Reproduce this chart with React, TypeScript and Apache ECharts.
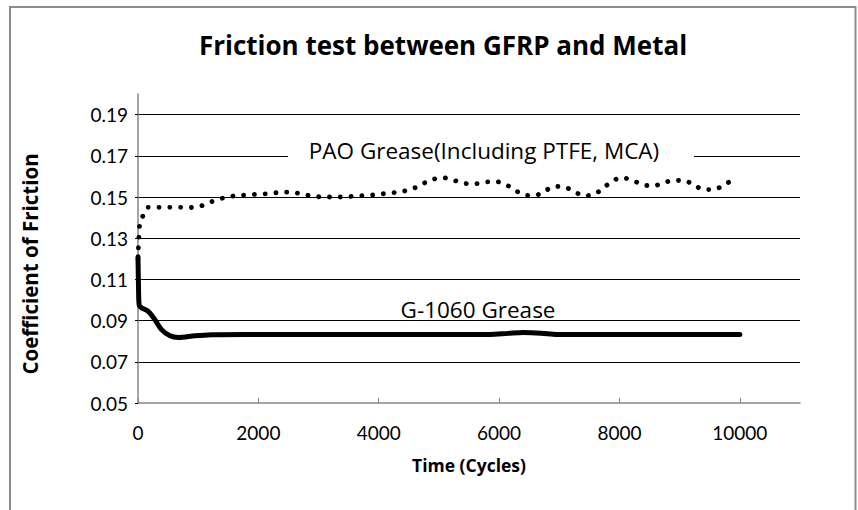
import React, { useEffect, useRef } from "react";
import * as echarts from "echarts";

const titleText = "Friction test between GFRP and Metal";
const xAxisName = "Time (Cycles)";
const yAxisName = "Coefficient of Friction";
const paoLabel = "PAO Grease(Including PTFE, MCA)";
const g1060Label = "G-1060 Grease";

const paoCycles = [
  0, 8, 15, 25, 76, 166, 342, 520, 697, 873, 1051, 1217, 1388, 1560, 1736, 1914,
  2092, 2268, 2445, 2623, 2794, 2971, 3154, 3337, 3513, 3690, 3868, 4050, 4227,
  4393, 4565, 4731, 4891, 5063, 5239, 5412, 5588, 5765, 5943, 6109, 6263, 6424,
  6590, 6756, 6916, 7093, 7254, 7420, 7586, 7729, 7873, 8034, 8205, 8371, 8549,
  8720, 8891, 9069, 9235, 9396, 9567, 9728, 9882,
];
const paoValues = [
  0.12, 0.126, 0.1305, 0.1357, 0.1405, 0.145, 0.145, 0.145, 0.145, 0.1449, 0.1457,
  0.1477, 0.1493, 0.1504, 0.1509, 0.1512, 0.1515, 0.152, 0.1524, 0.152, 0.151,
  0.1502, 0.15, 0.15, 0.1502, 0.1506, 0.1509, 0.1515, 0.152, 0.1527, 0.154, 0.1564,
  0.1585, 0.1594, 0.1582, 0.1567, 0.1564, 0.1572, 0.1575, 0.1561, 0.1533, 0.151,
  0.1507, 0.1528, 0.1551, 0.1548, 0.1525, 0.1506, 0.1514, 0.1543, 0.1575, 0.1594,
  0.1582, 0.1562, 0.1553, 0.1567, 0.158, 0.158, 0.1559, 0.1536, 0.1536, 0.1557,
  0.1583,
];

const g1060Cycles = [
  0, 10, 20, 60, 171, 282, 392, 531, 669, 946, 1222, 1776, 3000, 4500, 5850, 6150,
  6400, 6700, 6960, 8000, 10000,
];
const g1060Values = [
  0.121, 0.104, 0.0975, 0.0962, 0.0945, 0.0904, 0.0856, 0.0826, 0.0818, 0.0826,
  0.0831, 0.0833, 0.0833, 0.0833, 0.0833, 0.0838, 0.0842, 0.0839, 0.0833, 0.0832,
  0.0832,
];

const FONT = "Lato, 'Noto Sans', sans-serif";
const WIDE = "'Open Sans', 'Noto Sans', sans-serif";

export default function App() {
  const ref = useRef<HTMLDivElement>(null);
  useEffect(() => {
    if (!ref.current) return;
    const chart = echarts.init(ref.current, undefined, { renderer: "svg" });
    const pao = paoCycles.map((c, i) => [c, paoValues[i]]);
    const g = g1060Cycles.map((c, i) => [c, g1060Values[i]]);
    chart.setOption({
      animation: false,
      backgroundColor: "#ffffff",
      grid: { left: 138, right: 58, top: 94, bottom: 107, containLabel: false },
      xAxis: {
        type: "value",
        min: 0,
        max: 11000,
        interval: 2000,
        name: xAxisName,
        nameLocation: "middle",
        nameGap: 53,
        nameTextStyle: { fontFamily: WIDE, fontWeight: "bold", fontSize: 17.5, color: "#000" },
        axisLine: { show: true, onZero: false, lineStyle: { color: "#868686", width: 1.5 } },
        axisTick: { show: true, inside: true, length: 5, lineStyle: { color: "#868686", width: 1 } },
        axisLabel: {
          margin: 20,
          fontFamily: FONT,
          fontSize: 19,
          color: "#000",
          showMaxLabel: false,
          formatter: (v: number) => String(Math.round(v)),
        },
        splitLine: { show: false },
      },
      yAxis: {
        type: "value",
        min: 0.05,
        max: 0.2,
        interval: 0.02,
        axisLine: { show: true, onZero: false, lineStyle: { color: "#868686", width: 1.5 } },
        axisTick: { show: true, inside: false, length: 3, lineStyle: { color: "#000", width: 1 } },
        axisLabel: {
          margin: 10,
          fontFamily: FONT,
          fontSize: 19,
          color: "#000",
          showMaxLabel: false,
          formatter: (v: number) => v.toFixed(2),
        },
        splitLine: {
          show: true,
          showMinLine: false,
          showMaxLine: false,
          lineStyle: { color: "#000", width: 1.2 },
        },
      },
      series: [
        {
          type: "line",
          data: pao,
          showSymbol: false,
          smooth: 0.3,
          lineStyle: { color: "#000", width: 4.8, type: [0.1, 10.7], cap: "round" },
          z: 3,
        },
        {
          type: "line",
          data: g,
          showSymbol: false,
          smooth: 0.3,
          lineStyle: { color: "#000", width: 5, cap: "round" },
          z: 3,
        },
      ],
      graphic: [
        {
          type: "rect",
          shape: { x: 10, y: 7, width: 845.5, height: 600 },
          style: { fill: "none", stroke: "#8c8c8c", lineWidth: 2 },
          silent: true,
        },
        {
          type: "text",
          x: 443,
          y: 45,
          style: {
            text: titleText,
            fontFamily: WIDE,
            fontWeight: "bold",
            fontSize: 26,
            fill: "#000",
            textAlign: "center",
            textVerticalAlign: "middle",
          },
        },
        {
          type: "text",
          x: 30,
          y: 264,
          rotation: Math.PI / 2,
          style: {
            text: yAxisName,
            fontFamily: WIDE,
            fontWeight: "bold",
            fontSize: 20.5,
            fill: "#000",
            textAlign: "center",
            textVerticalAlign: "middle",
          },
        },
        {
          type: "rect",
          shape: { x: 288, y: 146, width: 406, height: 15 },
          style: { fill: "#ffffff" },
          z: 10,
        },
        {
          type: "text",
          x: 484,
          y: 150,
          z: 11,
          style: {
            text: paoLabel,
            fontFamily: WIDE,
            fontSize: 22.5,
            fill: "#000",
            textAlign: "center",
            textVerticalAlign: "middle",
          },
        },
        {
          type: "text",
          x: 478,
          y: 309,
          z: 11,
          style: {
            text: g1060Label,
            fontFamily: WIDE,
            fontSize: 22.5,
            fill: "#000",
            textAlign: "center",
            textVerticalAlign: "middle",
          },
        },
      ],
    });
    return () => chart.dispose();
  }, []);
  return (
    <div
      ref={ref}
      style={{ position: "absolute", left: 0, top: 0, width: 858, height: 510 }}
    />
  );
}
